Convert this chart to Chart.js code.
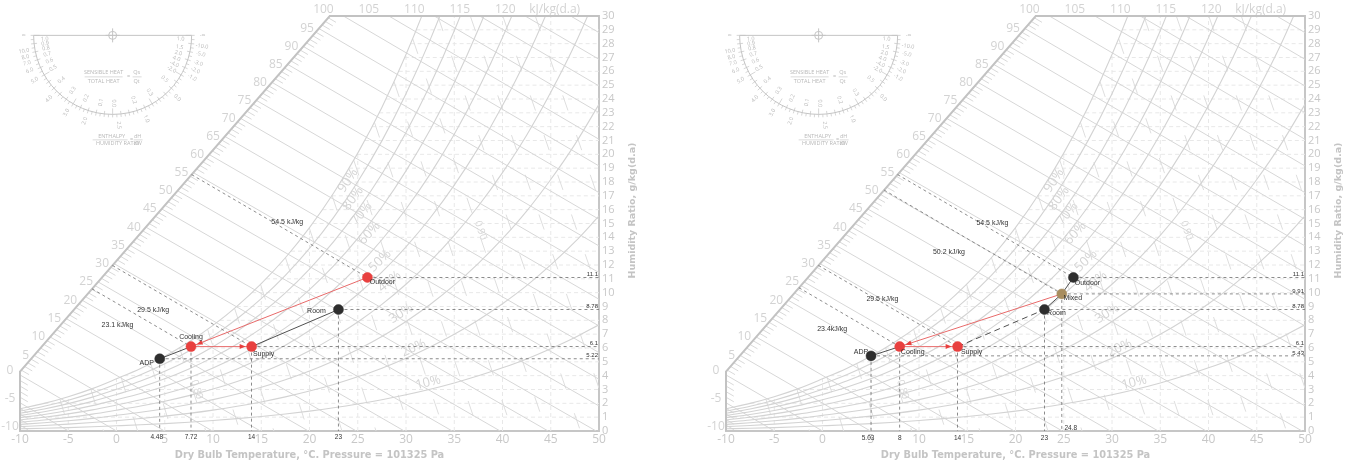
<!DOCTYPE html>
<html><head><meta charset="utf-8">
<script src="https://cdn.jsdelivr.net/npm/chart.js@4.4.0/dist/chart.umd.min.js"></script>
<style>
html,body{margin:0;padding:0;background:#fff;width:1351px;height:465px;overflow:hidden}
.panel{position:absolute;top:0;width:646px;height:465px}
#pa{left:0}#pb{left:706px}
</style></head><body>
<div class="panel" id="pa"><canvas id="ca" width="646" height="465"></canvas></div>
<div class="panel" id="pb"><canvas id="cb" width="646" height="465"></canvas></div>
<script>
// ================= DATA =================
const P_ATM = 101.325; // kPa
const satTemps    = [-10,-7.5,-5,-2.5,0,2.5,5,7.5,10,12.5,15,17.5,20,22.5,25,27.5,30,32.5,35,37.5,40,42.5,45,47.5,50];
const satPressure = [0.2600,0.3240,0.4018,0.4966,0.6112,0.7317,0.8726,1.0373,1.2282,1.4497,1.7058,1.9999,2.3393,2.7272,3.1699,3.6723,4.2470,4.8950,5.6290,6.4559,7.3849,8.4190,9.5935,10.890,12.352];
const rhLevels = [10,20,30,40,50,60,70,80,90,100];
const rhLabelLevels = [10,20,30,40,50,60,70,80,90];
const rhLabelT = [32.3,30.8,29.5,28.3,27.3,26.2,25.4,24.5,24.0];
const rhLabelW = [3.5,6.0,8.5,10.8,12.3,14.3,15.7,16.8,18.1];
const enthalpyLevels = [-5,0,5,10,15,20,25,30,35,40,45,50,55,60,65,70,75,80,85,90,95,100,105,110,115,120,125];
const enthalpyScaleLabels = [-10,-5,0,5,10,15,20,25,30,35,40,45,50,55,60,65,70,75,80,85,90,95,100];
const enthalpyTopValues = [105,110,115,120,125];
const enthalpyTopText = ['105','110','115','120','kJ/kg(d.a)'];
const volumeLevels = [0.76,0.77,0.78,0.79,0.80,0.81,0.82,0.83,0.84,0.85,0.86,0.87,0.88,0.89,0.90,0.91,0.92,0.93,0.94];
const volumeLabelLevels = [0.80,0.90];
const volumeLabelW = [3.0,14.5];
const gridTemps = [-5,0,5,10,15,20,25,30,35,40,45];
const gridHums = [1,2,3,4,5,6,7,8,9,10,11,12,13,14,15,16,17,18,19,20,21,22,23,24,25,26,27,28,29];
const diagonalT = [-10,22.1];
const diagonalW = [4.3,30];

// left chart: cooling with outdoor air
const leftNames = ['ADP','Cooling','Supply','Room','Outdoor'];
const leftTemp  = [4.48,7.72,14,23,26];
const leftHum   = [5.22,6.1,6.1,8.78,11.1];
const leftEnthalpyText  = ['54.5 kJ/kg','29.5 kJ/kg','23.1 kJ/kg'];
const leftEnthalpyPoint = ['Outdoor','Supply','Cooling'];
const leftEnthalpyLabelT = [17.7,3.8,0.1];
const leftEnthalpyLabelW = [15.07,8.77,7.68];
const leftHumText  = ['11.1','8.78','6.1','5.22'];
const leftHumPoint = ['Outdoor','Room','Supply','ADP'];
const leftTempText  = ['4.48','7.72','14','23'];
const leftTempPoint = ['ADP','Cooling','Supply','Room'];
const leftArrows = [['Outdoor','Cooling'],['Cooling','Supply']];
const leftSolid  = [['ADP','Cooling'],['Supply','Room']];
const leftDashed = [];

// right chart: cooling with mixed air
const rightNames = ['ADP','Cooling','Supply','Room','Mixed','Outdoor'];
const rightTemp  = [5.03,8,14,23,24.8,26];
const rightHum   = [5.43,6.1,6.1,8.78,9.91,11.1];
const rightEnthalpyText  = ['54.5 kJ/kg','50.2 kJ/kg','29.5 kJ/kg','23.4kJ/kg'];
const rightEnthalpyPoint = ['Outdoor','Mixed','Supply','Cooling'];
const rightEnthalpyLabelT = [17.6,13.1,6.2,1.0];
const rightEnthalpyLabelW = [15.0,12.9,9.57,7.4];
const rightHumText  = ['11.1','9.91','8.78','6.1','5.43'];
const rightHumPoint = ['Outdoor','Mixed','Room','Supply','ADP'];
const rightTempText  = ['5.03','8','14','23','24.8'];
const rightTempPoint = ['ADP','Cooling','Supply','Room','Mixed'];
const rightArrows = [['Mixed','Cooling'],['Cooling','Supply']];
const rightSolid  = [['ADP','Cooling'],['Room','Mixed'],['Mixed','Outdoor']];
const rightDashed = [['Supply','Room']];

// ================= STYLE =================
const RED='#e8403f', BLACK='#2e2e2e', TAN='#a88d5e';
const leftPointColors  = [BLACK,RED,RED,BLACK,RED];
const rightPointColors = [BLACK,RED,RED,BLACK,TAN,BLACK];
const leftNameOffsets  = [[-13,4],[0,-10],[12,7],[-22,2],[15,5]];
const rightNameOffsets = [[-10,-4],[13,5],[14,5],[12,4],[11,4],[14,6]];
const leftTempOffsets  = [[-3,6],[0,6],[0,6],[0,6]];
const rightTempOffsets = [[-3,7],[0,7],[0,7],[0,7],[9,-3]];
const GRID_C='#e8e8e8', RH_C='#d3d3d3', EN_C='#d7d7d7', VOL_C='#dedede', FRAME_C='#c2c2c2', GUIDE_C='#707070';
const LIGHT_TXT='#d3d3d3';
const ANNO_FONT = "7px 'Liberation Sans Narrow','Liberation Sans',sans-serif";
const PROT_CENTER = {x:-0.4, y:28.6};
const PROT_R = 79;

// ================= PSYCHROMETRICS =================
function pws(T){
  let i=0; while(i<satTemps.length-2 && T>satTemps[i+1]) i++;
  const f=(T-satTemps[i])/(satTemps[i+1]-satTemps[i]);
  return Math.exp(Math.log(satPressure[i])*(1-f)+Math.log(satPressure[i+1])*f);
}
function wFromP(p){return 622*p/(P_ATM-p);}
function wRH(T,rh){return wFromP(pws(T)*rh/100);}
function tSat(W){let a=-10,b=50;for(let k=0;k<50;k++){const m=(a+b)/2;if(wRH(m,100)<W)a=m;else b=m;}return a;}
function wEnth(h,T){return 1000*(h-1.006*T)/(2501+1.86*T);}
function tEnthAt(h,W){return (h-2.501*W)/(1.006+0.00186*W);}
function enthalpy(T,W){return 1.006*T+W/1000*(2501+1.86*T);}
function wDiag(T){return diagonalW[0]+(T-diagonalT[0])*(diagonalW[1]-diagonalW[0])/(diagonalT[1]-diagonalT[0]);}
function enthStart(h){
  if(wEnth(h,-10)<=wDiag(-10)) return {x:-10,y:wEnth(h,-10),side:'left'};
  if(wEnth(h,diagonalT[1])>=30) return {x:tEnthAt(h,30),y:30,side:'top'};
  let a=-10,b=diagonalT[1];
  for(let k=0;k<50;k++){const m=(a+b)/2;if(wEnth(h,m)>wDiag(m))a=m;else b=m;}
  return {x:a,y:wDiag(a),side:'diag'};
}
function enthEnd(h){const t0=h/1.006;return t0<=50?{x:t0,y:0}:{x:50,y:wEnth(h,50)};}
function wVol(v,T){return 1000*((v*P_ATM/(0.287042*(T+273.15)))-1)/1.607858;}
function tVol(v,W){return v*P_ATM/(0.287042*(1+1.607858*W/1000))-273.15;}
function volStart(v){
  let s;
  if(wVol(v,-10)<wRH(-10,100)) s={x:-10,y:wVol(v,-10)};
  else{let a=-10,b=50;for(let k=0;k<50;k++){const m=(a+b)/2;if(wVol(v,m)>wRH(m,100))a=m;else b=m;}s={x:a,y:wVol(v,a)};}
  if(s.y>30) s={x:tVol(v,30),y:30};
  return s;
}
function volEnd(v){const t0=tVol(v,0);return t0<=50?{x:t0,y:0}:{x:50,y:wVol(v,50)};}

// ================= CHART =================
function txt(ctx,s,x,y,font,color,align,rot,baseline){
  ctx.save();ctx.translate(x,y);if(rot)ctx.rotate(rot);
  ctx.font=font;ctx.fillStyle=color;ctx.textAlign=align||'center';ctx.textBaseline=baseline||'middle';
  ctx.fillText(s,0,0);ctx.restore();
}

function makePanel(canvasId,p){
  const idx=n=>p.names.indexOf(n);
  const pt=n=>({x:p.temp[idx(n)],y:p.hum[idx(n)]});
  const ds=[];
  const seg=(pts,color,width,dash,order,extra)=>ds.push(Object.assign({data:pts,showLine:true,borderColor:color,borderWidth:width,borderDash:dash,pointRadius:0,pointHoverRadius:0,fill:false,tension:0,order:order},extra||{}));
  gridHums.forEach(w=>seg([{x:Math.max(-10,tSat(w)),y:w},{x:50,y:w}],GRID_C,1,[4,3],100));
  gridTemps.forEach(t=>seg([{x:t,y:0},{x:t,y:Math.min(30,wRH(t,100))}],GRID_C,1,[4,3],100));
  volumeLevels.forEach(v=>seg([volStart(v),volEnd(v)],VOL_C,1,[16,26],95));
  enthalpyLevels.forEach(h=>seg([enthStart(h),enthEnd(h)],EN_C,1,[],90));
  rhLevels.forEach(r=>seg(satTemps.map(T=>({x:T,y:wRH(T,r)})),RH_C,1.1,[],85,{cubicInterpolationMode:'monotone'}));
  seg([{x:diagonalT[0],y:0},{x:diagonalT[0],y:diagonalW[0]},{x:diagonalT[1],y:diagonalW[1]},{x:50,y:30}],FRAME_C,2,[],80,{clip:false});
  p.humPoint.forEach(n=>seg([pt(n),{x:50,y:pt(n).y}],GUIDE_C,0.8,[3,3],40));
  p.tempPoint.forEach(n=>seg([pt(n),{x:pt(n).x,y:0}],GUIDE_C,0.8,[3,3],40));
  p.enthPoint.forEach(n=>{const q=pt(n);const s=enthStart(enthalpy(q.x,q.y));seg([{x:s.x,y:s.y},q],GUIDE_C,0.8,[3,3],40);});
  p.arrows.forEach(([a,b])=>seg([pt(a),pt(b)],'#e86a6a',1,[],20));
  p.solid.forEach(([a,b])=>seg([pt(a),pt(b)],'#505050',1,[],20));
  p.dashed.forEach(([a,b])=>seg([pt(a),pt(b)],'#505050',1,[6,4],20));
  ds.push({data:p.temp.map((t,i)=>({x:t,y:p.hum[i]})),showLine:false,pointRadius:5,pointHoverRadius:5,pointBackgroundColor:p.colors,pointBorderColor:p.colors,pointBorderWidth:0.5,order:0});

  const deco={
    id:'deco',
    beforeDatasetsDraw(chart){
      const ctx=chart.ctx,sx=chart.scales.x,sy=chart.scales.y;
      const X=v=>sx.getPixelForValue(v),Y=v=>sy.getPixelForValue(v);
      ctx.save();
      // hatch marks along the enthalpy scale
      ctx.strokeStyle='#cfcfcf';ctx.lineWidth=0.8;ctx.beginPath();
      for(let h=-9;h<100;h++){
        if(h%5===0)continue;
        const s=enthStart(h);if(s.side==='top')continue;const e=enthEnd(h);
        const x0=X(s.x),y0=Y(s.y),x1=X(e.x),y1=Y(e.y);const L=Math.hypot(x1-x0,y1-y0);
        ctx.moveTo(x0,y0);ctx.lineTo(x0+(x1-x0)/L*9,y0+(y1-y0)/L*9);
      }
      ctx.stroke();
      // enthalpy scale labels
      const LF="12px 'Open Sans',sans-serif";
      enthalpyScaleLabels.forEach(h=>{
        const s=enthStart(h);
        if(s.side==='top') txt(ctx,String(h),X(s.x)-20,chart.chartArea.top-6,LF,LIGHT_TXT,'center');
        else if(s.side==='left') txt(ctx,String(h),X(s.x)-10,Y(s.y)-4,LF,LIGHT_TXT,'center');
        else txt(ctx,String(h),X(s.x)-5,Y(s.y),LF,LIGHT_TXT,'right');
      });
      enthalpyTopValues.forEach((h,i)=>{const s=enthStart(h);txt(ctx,enthalpyTopText[i],X(s.x)-(i===4?16:20),chart.chartArea.top-6,LF,LIGHT_TXT,'center');});
      // RH labels
      rhLabelLevels.forEach((r,i)=>{
        const T=rhLabelT[i];
        const a=Math.atan2(Y(wRH(T+0.5,r))-Y(wRH(T-0.5,r)),X(T+0.5)-X(T-0.5));
        txt(ctx,r+'%',X(T),Y(rhLabelW[i]),"13px 'Open Sans',sans-serif",'#d4d4d4','center',a);
      });
      // volume labels
      volumeLabelLevels.forEach((v,i)=>{
        const s=volStart(v),e=volEnd(v);const a=Math.atan2(Y(e.y)-Y(s.y),X(e.x)-X(s.x));
        const w=volumeLabelW[i];
        txt(ctx,v.toFixed(2),X(tVol(v,w))+4,Y(w),"10px 'Open Sans',sans-serif",'#d6d6d6','center',a);
      });
      // protractor
      const cx=X(PROT_CENTER.x),cy=Y(PROT_CENTER.y),R=PROT_R;
      ctx.strokeStyle='#c4c4c4';ctx.lineWidth=1;
      ctx.beginPath();ctx.moveTo(cx-R,cy);ctx.lineTo(cx+R,cy);ctx.stroke();
      ctx.beginPath();ctx.arc(cx,cy,R,0,Math.PI);ctx.stroke();
      ctx.beginPath();ctx.arc(cx,cy,4,0,2*Math.PI);ctx.moveTo(cx-7,cy);ctx.lineTo(cx+7,cy);ctx.moveTo(cx,cy-7);ctx.lineTo(cx,cy+7);ctx.stroke();
      ctx.beginPath();ctx.lineWidth=0.7;
      for(let d=0;d<=180;d+=3){const t=d*Math.PI/180,c=Math.cos(t),s=Math.sin(t);ctx.moveTo(cx+c*R,cy+s*R);ctx.lineTo(cx+c*(R+3),cy+s*(R+3));}
      for(let d=0;d<=180;d+=6){const t=d*Math.PI/180,c=Math.cos(t),s=Math.sin(t),l=(d%30===0)?6:3;ctx.moveTo(cx+c*R,cy+s*R);ctx.lineTo(cx+c*(R-l),cy+s*(R-l));}
      ctx.stroke();
      const PF="5.5px 'Open Sans',sans-serif",PC='#b9b9b9';
      const inner=[[177,'1.0'],[173,'0.9'],[169,'0.8'],[164,'0.7'],[158,'0.6'],[151,'0.5'],[139,'0.4'],[126,'0.3'],[113,'0.2'],[100,'0.1'],[89,'0.0'],[72,'0.2'],[57,'0.3'],[40,'0.5'],[3,'1.0'],[10,'1.5'],[15,'2.0'],[20,'4.0'],[25,'-4.0'],[30,'-2.0']];
      const outer=[[170,'10.0'],[166,'8.0'],[162,'7.0'],[157,'6.0'],[150,'5.0'],[135,'4.0'],[121,'3.0'],[108,'2.0'],[86,'2.5'],[68,'1.0'],[44,'0.0'],[7,'-10.0'],[12,'-5.0'],[18,'-3.0'],[23,'-2.0'],[28,'-1.0']];
      const lab=(arr,rr)=>arr.forEach(([d,s])=>{const t=d*Math.PI/180;const rot=d>90?(d-180)*Math.PI/180:d*Math.PI/180;txt(ctx,s,cx+Math.cos(t)*rr,cy+Math.sin(t)*rr,PF,PC,'center',rot);});
      lab(inner,R-11);lab(outer,R+11);
      txt(ctx,'∞',cx-R-10,cy,PF,PC,'center');txt(ctx,'-∞',cx+R+11,cy,PF,PC,'center');
      txt(ctx,'SENSIBLE HEAT',cx-9,cy+37,PF,PC);txt(ctx,'TOTAL HEAT',cx-9,cy+46,PF,PC);
      txt(ctx,'=',cx+16,cy+41,PF,PC);txt(ctx,'Qs',cx+24,cy+37,PF,PC);txt(ctx,'Qt',cx+24,cy+46,PF,PC);
      txt(ctx,'ENTHALPY',cx-1,cy+101,PF,PC);txt(ctx,'HUMIDITY RATIO',cx+5,cy+108,PF,PC);
      txt(ctx,'=',cx+19,cy+104,PF,PC);txt(ctx,'dH',cx+25,cy+101,PF,PC);txt(ctx,'dW',cx+25,cy+108,PF,PC);
      ctx.beginPath();ctx.lineWidth=0.6;
      ctx.moveTo(cx-28,cy+41.5);ctx.lineTo(cx+10,cy+41.5);ctx.moveTo(cx+20,cy+41.5);ctx.lineTo(cx+29,cy+41.5);
      ctx.moveTo(cx-20,cy+104.5);ctx.lineTo(cx+15,cy+104.5);ctx.moveTo(cx+21,cy+104.5);ctx.lineTo(cx+30,cy+104.5);
      ctx.stroke();
      ctx.restore();
    },
    afterDatasetsDraw(chart){
      const ctx=chart.ctx,sx=chart.scales.x,sy=chart.scales.y,ca=chart.chartArea;
      const X=v=>sx.getPixelForValue(v),Y=v=>sy.getPixelForValue(v);
      ctx.save();
      // arrowheads
      ctx.fillStyle='#e8403f';
      p.arrows.forEach(([a,b])=>{
        const A=pt(a),B=pt(b);const ax=X(A.x),ay=Y(A.y),bx=X(B.x),by=Y(B.y);
        const L=Math.hypot(bx-ax,by-ay),ux=(bx-ax)/L,uy=(by-ay)/L;
        const tx=bx-ux*6,ty=by-uy*6,bx2=tx-ux*6,by2=ty-uy*6;
        ctx.beginPath();ctx.moveTo(tx,ty);ctx.lineTo(bx2-uy*2.5,by2+ux*2.5);ctx.lineTo(bx2+uy*2.5,by2-ux*2.5);ctx.closePath();ctx.fill();
      });
      // point names
      p.names.forEach((n,i)=>txt(ctx,n,X(p.temp[i])+p.nameOffsets[i][0],Y(p.hum[i])+p.nameOffsets[i][1],ANNO_FONT,'#333'));
      // enthalpy process labels
      p.enthText.forEach((s,i)=>txt(ctx,s,X(p.enthLabelT[i]),Y(p.enthLabelW[i]),ANNO_FONT,'#333'));
      // humidity value labels at the right edge
      p.humText.forEach((s,i)=>txt(ctx,s,ca.right-1,Y(pt(p.humPoint[i]).y)-3,"6px 'Liberation Sans Narrow','Liberation Sans',sans-serif",'#333','right'));
      // temperature value labels at the bottom
      p.tempText.forEach((s,i)=>{const q=pt(p.tempPoint[i]);txt(ctx,s,X(q.x)+p.tempOffsets[i][0],ca.bottom+p.tempOffsets[i][1],"6.5px 'Liberation Sans Narrow','Liberation Sans',sans-serif",'#333','center');});
      // axis titles
      const TF="bold 9.8px 'DejaVu Sans',sans-serif";
      txt(ctx,'Dry Bulb Temperature, °C. Pressure = 101325 Pa',(ca.left+ca.right)/2,455,TF,'#c4c4c4');
      txt(ctx,'Humidity Ratio, g/kg(d.a)',ca.right+34,(ca.top+ca.bottom)/2-13,"bold 9.5px 'DejaVu Sans',sans-serif",'#c4c4c4','center',-Math.PI/2);
      ctx.restore();
    }
  };

  return new Chart(document.getElementById(canvasId),{
    type:'scatter',
    data:{datasets:ds},
    options:{
      responsive:false,animation:false,events:[],
      layout:{padding:{left:20,top:16,right:0,bottom:0}},
      plugins:{legend:{display:false},tooltip:{enabled:false}},
      scales:{
        x:{type:'linear',min:-10,max:50,afterFit(s){s.height=34;},
           ticks:{stepSize:5,autoSkip:false,maxRotation:0,color:'#c8c8c8',padding:1,font:{family:"'Open Sans',sans-serif",size:12}},
           grid:{display:false,drawTicks:false},border:{display:true,color:'#c6c6c6',width:2}},
        y:{type:'linear',position:'right',min:0,max:30,afterFit(s){s.width=47;},
           ticks:{stepSize:1,autoSkip:false,color:'#c8c8c8',padding:3,font:{family:"'Open Sans',sans-serif",size:11}},
           grid:{display:false,drawTicks:false},border:{display:true,color:'#c6c6c6',width:2}}
      }
    },
    plugins:[deco]
  });
}

makePanel('ca',{names:leftNames,temp:leftTemp,hum:leftHum,colors:leftPointColors,nameOffsets:leftNameOffsets,
  enthText:leftEnthalpyText,enthPoint:leftEnthalpyPoint,enthLabelT:leftEnthalpyLabelT,enthLabelW:leftEnthalpyLabelW,
  humText:leftHumText,humPoint:leftHumPoint,tempText:leftTempText,tempPoint:leftTempPoint,tempOffsets:leftTempOffsets,
  arrows:leftArrows,solid:leftSolid,dashed:leftDashed});
makePanel('cb',{names:rightNames,temp:rightTemp,hum:rightHum,colors:rightPointColors,nameOffsets:rightNameOffsets,
  enthText:rightEnthalpyText,enthPoint:rightEnthalpyPoint,enthLabelT:rightEnthalpyLabelT,enthLabelW:rightEnthalpyLabelW,
  humText:rightHumText,humPoint:rightHumPoint,tempText:rightTempText,tempPoint:rightTempPoint,tempOffsets:rightTempOffsets,
  arrows:rightArrows,solid:rightSolid,dashed:rightDashed});
</script></body></html>
